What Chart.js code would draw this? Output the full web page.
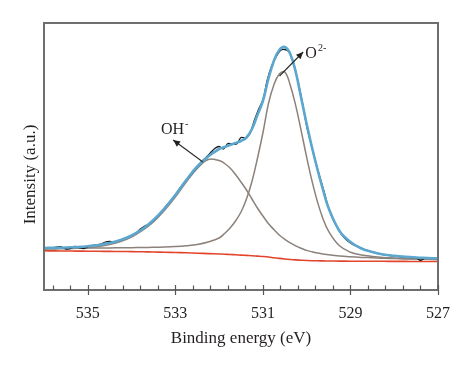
<!DOCTYPE html>
<html><head><meta charset="utf-8">
<script src="https://cdn.jsdelivr.net/npm/chart.js@4.4.0/dist/chart.umd.min.js"></script>
<style>html,body{margin:0;padding:0;background:#fff;}canvas{display:block;}</style>
</head><body>
<canvas id="c" width="474" height="370"></canvas>
<script>
// Binding energy grid (eV) for fitted curves
const energy = [536,535.75,535.5,535.25,535,534.75,534.5,534.25,534,533.75,533.5,533.25,533,532.75,532.5,532.25,
  532,531.875,531.75,531.625,531.5,531.375,531.25,531.125,531,530.875,530.75,530.625,530.5,530.375,530.25,530.125,530,529.875,529.75,529.625,529.5,
  529.25,529,528.75,528.5,528.25,528,527.75,527.5,527.25,527];
// Background (red)
const background = [39.2,39.1,39.0,38.9,38.8,38.7,38.6,38.5,38.4,38.2,38.0,37.8,37.5,37.2,36.8,36.4,
  36.0,35.8,35.5,35.2,34.9,34.6,34.3,33.9,33.5,33.0,32.3,31.6,31.0,30.5,30.1,29.8,29.5,29.3,29.2,29.1,29.0,
  28.9,28.8,28.8,28.7,28.7,28.6,28.6,28.5,28.5,28.5];
// Fitted envelope (blue)
const fitEnvelope = [42.0,42.2,42.5,43.0,43.8,45.0,47.0,50.0,54.5,61.0,70.0,81.5,95.0,110.0,123.5,133.5,
  141.0,143.0,145.0,147.0,149.0,152.5,161.0,175.0,189.0,211.0,229.0,240.0,243.0,236.0,218.0,192.0,166.0,142.0,120.0,100.0,82.0,
  59.0,48.0,41.5,38.0,35.5,34.2,33.2,32.5,32.0,31.5];
// OH- component (grey)
const peakOH = [40.8,41.0,41.3,41.7,42.3,43.5,45.5,48.5,53.0,59.5,68.0,79.5,93.0,108.0,121.5,130.5,
  129.5,126.5,122.0,115.5,108.0,100.0,91.0,82.0,74.0,66.5,60.5,55.0,50.7,47.1,44.1,41.7,39.6,38.2,36.9,36.0,35.2,
  34.0,33.2,32.6,32.2,31.7,31.4,31.1,30.9,30.7,30.5];
// O2- component (grey)
const peakO2 = [41.5,41.6,41.7,41.8,41.9,42.0,42.1,42.2,42.3,42.5,42.7,43.0,43.5,44.3,45.5,48.0,
  52.0,56.5,62.0,69.0,78.0,91.0,108.5,131.5,157.0,186.0,205.0,216.0,218.0,204.8,184.4,159.2,132.8,108.5,87.6,71.1,58.8,
  44.2,37.8,35.0,33.6,32.6,32.0,31.4,31.1,30.8,30.5];
// Raw spectrum (black)
const rawEnergy = [536.0,535.9,535.8,535.7,535.6,535.5,535.4,535.3,535.2,535.1,535.0,534.9,534.8,534.7,534.6,534.5,534.4,534.3,534.2,534.1,
  534.0,533.9,533.8,533.7,533.6,533.5,533.4,533.3,533.2,533.1,533.0,532.9,532.8,532.7,532.6,532.5,532.4,532.3,532.2,532.1,
  532.0,531.9,531.8,531.7,531.6,531.5,531.4,531.3,531.2,531.1,531.0,530.9,530.8,530.7,530.6,530.5,530.4,530.3,530.2,530.1,
  530.0,529.9,529.8,529.7,529.6,529.5,529.4,529.3,529.2,529.1,529.0,528.9,528.8,528.7,528.6,528.5,528.4,528.3,528.2,528.1,
  528.0,527.9,527.8,527.7,527.6,527.5,527.4,527.3,527.2,527.1,527.0];
const rawIntensity = [42.5,42.0,42.3,43.0,43.2,41.0,41.3,43.5,42.5,41.5,43.0,44.5,45.0,45.8,48.0,48.5,48.0,49.0,50.5,52.5,
  54.5,57.0,61.0,64.0,66.0,69.5,74.0,79.0,84.5,89.5,95.0,101.5,107.0,112.5,117.5,123.0,128.5,132.5,137.0,141.5,
  143.5,141.0,146.5,146.0,146.0,152.5,152.0,156.0,169.0,180.5,190.0,210.0,224.0,233.0,239.5,240.5,238.0,227.0,209.0,188.0,
  164.0,146.0,129.0,113.0,98.0,82.0,71.0,62.5,55.5,50.5,47.0,44.5,43.0,41.0,39.5,38.0,37.0,35.8,35.0,34.5,
  34.0,33.5,33.2,33.0,32.5,32.3,29.5,32.0,31.8,31.6,31.5];
// Axis ticks
const majorTicks = [535,533,531,529,527];
const minorTicks = [535.8,535.4,534.6,534.2,533.8,533.4,532.6,532.2,531.8,531.4,530.6,530.2,529.8,529.4,528.6,528.2,527.8,527.4];
const xTitle = 'Binding energy (eV)';
const yTitle = 'Intensity (a.u.)';
// Annotations (anchored in data units)
const annOH = {text:'OH', sup:'-', at:[533.33,156.5], arrowFrom:[532.37,128], arrowTo:[533.05,150]};
const annO2 = {text:'O', sup:'2-', at:[530.03,232], arrowFrom:[530.62,214], arrowTo:[530.08,238]};

const SERIF = '"Liberation Serif","Times New Roman",serif';
const TXT = '#231f20';
const toXY = (xs, ys) => xs.map((x,i)=>({x:x, y:ys[i]}));

function arrow(ctx, x1, y1, x2, y2){
  ctx.beginPath(); ctx.moveTo(x1,y1); ctx.lineTo(x2,y2); ctx.stroke();
  const a = Math.atan2(y2-y1, x2-x1), L = 7, W = 3.2;
  ctx.beginPath();
  ctx.moveTo(x2,y2);
  ctx.lineTo(x2 - L*Math.cos(a) + W*Math.sin(a), y2 - L*Math.sin(a) - W*Math.cos(a));
  ctx.lineTo(x2 - L*Math.cos(a) - W*Math.sin(a), y2 - L*Math.sin(a) + W*Math.cos(a));
  ctx.closePath(); ctx.fill();
}

const decor = {
  id:'decor',
  afterDraw(chart){
    const ctx = chart.ctx, a = chart.chartArea, xs = chart.scales.x, ys = chart.scales.y;
    ctx.save();
    ctx.strokeStyle = '#6f6f6f'; ctx.lineWidth = 2;
    ctx.strokeRect(a.left, a.top, a.right - a.left, a.bottom - a.top);
    ctx.strokeStyle = '#555'; ctx.lineWidth = 1.2;
    majorTicks.forEach(v=>{ const px = Math.round(xs.getPixelForValue(v))+0.5;
      ctx.beginPath(); ctx.moveTo(px, a.bottom-5); ctx.lineTo(px, a.bottom+5); ctx.stroke(); });
    minorTicks.forEach(v=>{ const px = Math.round(xs.getPixelForValue(v))+0.5;
      ctx.beginPath(); ctx.moveTo(px, a.bottom-4.5); ctx.lineTo(px, a.bottom); ctx.stroke(); });
    ctx.fillStyle = TXT; ctx.font = '17px ' + SERIF;
    ctx.translate(31, (a.top+a.bottom)/2 + 18); ctx.rotate(-Math.PI/2);
    ctx.textAlign = 'center'; ctx.textBaseline = 'middle';
    ctx.fillText(yTitle, 0, 0);
    ctx.restore();
    ctx.save();
    ctx.fillStyle = TXT; ctx.strokeStyle = '#2a2a2a'; ctx.lineWidth = 1.1;
    [annOH, annO2].forEach(an=>{
      arrow(ctx, xs.getPixelForValue(an.arrowFrom[0]), ys.getPixelForValue(an.arrowFrom[1]),
                 xs.getPixelForValue(an.arrowTo[0]), ys.getPixelForValue(an.arrowTo[1]));
      const tx = xs.getPixelForValue(an.at[0]), ty = ys.getPixelForValue(an.at[1]);
      ctx.font = '16px ' + SERIF; ctx.textAlign = 'left'; ctx.textBaseline = 'alphabetic';
      ctx.fillText(an.text, tx, ty);
      const w = ctx.measureText(an.text).width;
      ctx.font = '10px ' + SERIF;
      ctx.fillText(an.sup, tx + w + 1, ty - 7);
    });
    ctx.restore();
  }
};

new Chart(document.getElementById('c'), {
  type:'line',
  data:{ datasets:[
    {label:'Fit', data:toXY(energy, fitEnvelope), borderColor:'#5ba7cf', borderWidth:2.6, order:1},
    {label:'Raw', data:toXY(rawEnergy, rawIntensity), borderColor:'#1c1c1c', borderWidth:1.3, order:2, tension:0.3},
    {label:'OH-', data:toXY(energy, peakOH), borderColor:'#8c827b', borderWidth:1.5, order:3},
    {label:'O2-', data:toXY(energy, peakO2), borderColor:'#8c827b', borderWidth:1.5, order:3},
    {label:'Background', data:toXY(energy, background), borderColor:'#e2452c', borderWidth:1.6, order:4}
  ]},
  options:{
    responsive:false, animation:false, devicePixelRatio:1,
    layout:{padding:{left:44, right:36, top:23, bottom:0}},
    elements:{point:{radius:0}, line:{tension:0.4, fill:false}},
    plugins:{legend:{display:false}, tooltip:{enabled:false}},
    scales:{
      x:{type:'linear', min:527, max:536, reverse:true, position:'bottom',
        grid:{display:false}, border:{display:false},
        afterBuildTicks:(s)=>{ s.ticks = majorTicks.map(v=>({value:v})); },
        afterFit:(s)=>{ s.height = 80; },
        ticks:{autoSkip:false, maxRotation:0, padding:6, color:TXT, font:{family:SERIF, size:16},
          callback:(v)=>String(v)},
        title:{display:true, text:xTitle, color:TXT, font:{family:SERIF, size:17}, padding:{top:0, bottom:21}}
      },
      y:{type:'linear', min:0, max:267, display:false}
    }
  },
  plugins:[decor]
});
</script>
</body></html>
